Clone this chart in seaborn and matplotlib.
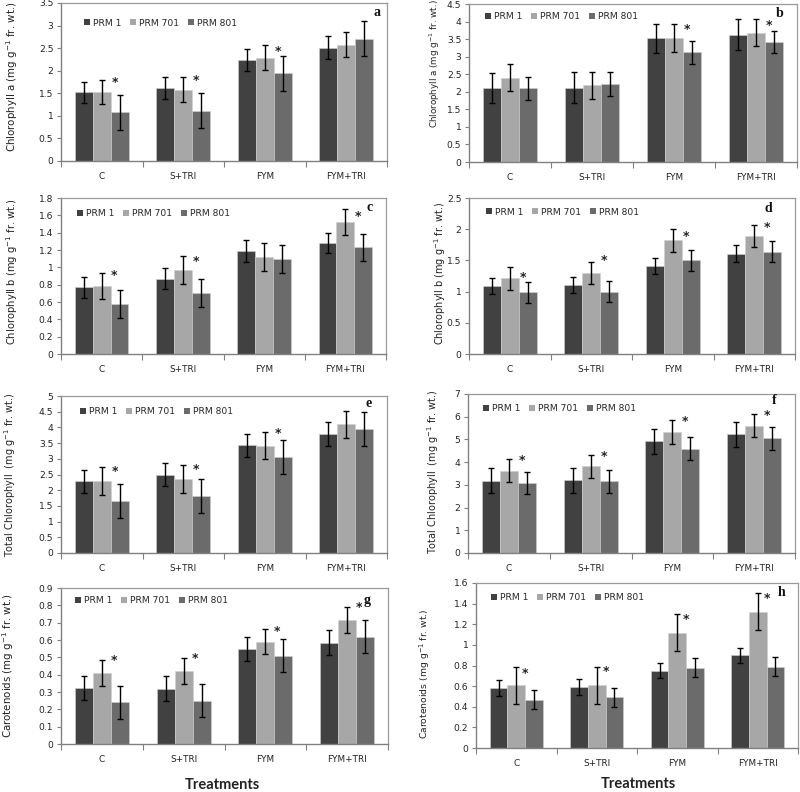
import numpy as np
import pandas as pd
import matplotlib
matplotlib.use("Agg")
import matplotlib.pyplot as plt
from matplotlib.patches import Patch
from matplotlib.ticker import FuncFormatter
import seaborn as sns

# ===============================
# Data
# ===============================
treatments = ["C", "S+TRI", "FYM", "FYM+TRI"]
cultivars = ["PRM 1", "PRM 701", "PRM 801"]

# rows = cultivars, columns = treatments
a_mean = [[1.52, 1.62, 2.24, 2.51], [1.53, 1.58, 2.29, 2.58], [1.08, 1.11, 1.94, 2.71]]
a_err = [[0.24, 0.24, 0.25, 0.25], [0.26, 0.27, 0.27, 0.27], [0.39, 0.39, 0.39, 0.39]]
a_star = [1.74, 1.78, 2.43, None]

b_mean = [[2.10, 2.12, 3.52, 3.63], [2.40, 2.18, 3.52, 3.68], [2.10, 2.22, 3.12, 3.42]]
b_err = [[0.43, 0.43, 0.42, 0.43], [0.39, 0.39, 0.40, 0.39], [0.32, 0.33, 0.32, 0.32]]
b_star = [None, None, 3.78, 3.90]

c_mean = [[0.77, 0.87, 1.19, 1.28], [0.79, 0.97, 1.12, 1.52], [0.58, 0.70, 1.10, 1.23]]
c_err = [[0.12, 0.12, 0.13, 0.12], [0.15, 0.16, 0.16, 0.15], [0.16, 0.16, 0.16, 0.16]]
c_star = [0.90, 1.065, None, 1.59]

d_mean = [[1.09, 1.10, 1.41, 1.61], [1.21, 1.30, 1.82, 1.89], [0.99, 1.00, 1.50, 1.64]]
d_err = [[0.13, 0.13, 0.13, 0.14], [0.18, 0.18, 0.18, 0.18], [0.17, 0.17, 0.17, 0.17]]
d_star = [1.22, 1.50, 1.89, 2.03]

e_mean = [[2.28, 2.49, 3.43, 3.80], [2.30, 2.35, 3.41, 4.10], [1.67, 1.82, 3.06, 3.95]]
e_err = [[0.36, 0.37, 0.37, 0.38], [0.44, 0.44, 0.43, 0.43], [0.54, 0.55, 0.54, 0.54]]
e_star = [2.60, 2.65, 3.81, None]

f_mean = [[3.18, 3.20, 4.92, 5.22], [3.62, 3.82, 5.33, 5.60], [3.08, 3.15, 4.60, 5.05]]
f_err = [[0.56, 0.54, 0.55, 0.55], [0.51, 0.50, 0.51, 0.51], [0.50, 0.50, 0.49, 0.50]]
f_star = [4.06, 4.23, 5.79, 6.06]

g_mean = [[0.325, 0.32, 0.55, 0.585], [0.41, 0.42, 0.59, 0.715], [0.24, 0.25, 0.51, 0.62]]
g_err = [[0.07, 0.07, 0.07, 0.07], [0.075, 0.075, 0.073, 0.075], [0.095, 0.095, 0.095, 0.097]]
g_star = [0.483, 0.492, 0.65, 0.787]

h_mean = [[0.58, 0.59, 0.75, 0.90], [0.61, 0.61, 1.12, 1.32], [0.47, 0.49, 0.78, 0.79]]
h_err = [[0.075, 0.075, 0.075, 0.072], [0.18, 0.18, 0.18, 0.18], [0.088, 0.088, 0.088, 0.088]]
h_star = [0.72, 0.74, 1.246, 1.45]

lab_a = "Chlorophyll a (mg g$^{-1}$ fr. wt.)"
lab_b = "Chlorophyll b (mg g$^{-1}$ fr. wt.)"
lab_t = "Total Chlorophyll  (mg g$^{-1}$ fr. wt.)"
lab_c = "Carotenoids (mg g$^{-1}$ fr. wt.)"

colors = ["#414141", "#a7a7a7", "#6b6b6b"]

# ===============================
# Panel settings
# letter, mean, err, star, ylabel, ylabel size, ymax, ystep,
# axes box in pixels (left, right, top, bottom),
# ylabel coords, legend anchor, letter pos, star offset
# ===============================
panels = [
    ("a", a_mean, a_err, a_star, lab_a, 7.4, 3.5, 0.5, (61, 387, 3, 161), (-0.15, 0.53), (0.07, 0.873), (0.98, 0.94), -0.28),
    ("b", b_mean, b_err, b_star, lab_a, 6.3, 4.5, 0.5, (469, 797, 4, 162), (-0.104, 0.62), (0.049, 0.918), (0.96, 0.94), -0.28),
    ("c", c_mean, c_err, c_star, lab_b, 7.2, 1.8, 0.2, (61, 386, 198, 354), (-0.15, 0.53), (0.049, 0.90), (0.96, 0.94), -0.28),
    ("d", d_mean, d_err, d_star, lab_b, 7.0, 2.5, 0.5, (469, 795, 198, 354), (-0.09, 0.52), (0.052, 0.91), (0.93, 0.935), -0.28),
    ("e", e_mean, e_err, e_star, lab_t, 7.0, 5.0, 0.5, (61, 387, 396, 553), (-0.156, 0.50), (0.058, 0.90), (0.954, 0.955), -0.28),
    ("f", f_mean, f_err, f_star, lab_t, 7.0, 7.0, 1.0, (468, 795, 394, 553), (-0.107, 0.51), (0.046, 0.91), (0.945, 0.96), -0.28),
    ("g", g_mean, g_err, g_star, lab_c, 7.4, 0.9, 0.1, (61, 388, 588, 744), (-0.162, 0.50), (0.043, 0.92), (0.948, 0.92), -0.35),
    ("h", h_mean, h_err, h_star, lab_c, 6.7, 1.6, 0.2, (476, 798, 583, 748), (-0.158, 0.45), (0.047, 0.91), (0.96, 0.945), -0.5),
]

sns.set_theme(style="white")
plt.rcParams["font.family"] = ["DejaVu Sans"]
plt.rcParams["mathtext.default"] = "regular"

W, H = 800, 792
fig = plt.figure(figsize=(W / 100, H / 100), dpi=100)

handles = [Patch(facecolor=c, edgecolor="none", label=n) for c, n in zip(colors, cultivars)]
fmt = FuncFormatter(lambda v, p: f"{round(v, 2):g}")

for (letter, mean, err, star, ylab, labsize, ymax, ystep, box, labxy,
     legxy, letxy, sdx) in panels:
    l, r, t, b = box
    ax = fig.add_axes([l / W, 1 - b / H, (r - l) / W, (b - t) / H])

    df = pd.DataFrame({
        "Treatment": treatments * len(cultivars),
        "Cultivar": np.repeat(cultivars, len(treatments)),
        "Value": np.ravel(mean),
    })
    sns.barplot(data=df, x="Treatment", y="Value", hue="Cultivar",
                order=treatments, hue_order=cultivars, palette=colors,
                saturation=1, width=0.66, errorbar=None, legend=False,
                edgecolor="#d0d0d0", linewidth=0.4, ax=ax)
    bars = list(ax.containers)

    # error bars on each bar
    for i, cont in enumerate(bars):
        xs = [p.get_x() + p.get_width() / 2 for p in cont]
        hs = [p.get_height() for p in cont]
        ax.errorbar(xs, hs, yerr=err[i], fmt="none", ecolor="black",
                    elinewidth=1, capsize=2.5, capthick=1, zorder=5)

    # significance stars
    for j, s in enumerate(star):
        if s is None:
            continue
        p = bars[2][j]
        x = p.get_x() + p.get_width() * (0.5 + sdx)
        ax.text(x, s, "*", ha="center", va="center", fontsize=9,
                fontweight="bold", color="#222222", zorder=6)

    ax.set_xlim(-0.5, 3.5)
    ax.set_ylim(0, ymax)
    ax.set_yticks(np.arange(0, ymax + ystep / 2, ystep))
    ax.yaxis.set_major_formatter(fmt)
    ax.set_xticks([-0.5, 0.5, 1.5, 2.5, 3.5], minor=True)
    ax.tick_params(axis="x", which="major", length=0, pad=8, labelsize=6.4, colors="#222222")
    ax.tick_params(axis="x", which="minor", length=4, width=0.8, color="#808080", direction="out", bottom=True)
    ax.tick_params(axis="y", length=3, width=0.8, color="#808080", direction="out", left=True,
                   labelsize=6.6, pad=2.5, labelcolor="#222222")

    for side in ["left", "bottom"]:
        ax.spines[side].set_color("#808080")
        ax.spines[side].set_linewidth(1)
    for side in ["top", "right"]:
        ax.spines[side].set_color("#9a9a9a")
        ax.spines[side].set_linewidth(0.9)

    ax.set_xlabel("")
    ax.set_ylabel(ylab, fontsize=labsize, color="#222222", va="center")
    ax.yaxis.set_label_coords(*labxy)

    ax.legend(handles=handles, loc="center left", bbox_to_anchor=legxy, ncol=3,
              frameon=False, handlelength=0.65, handleheight=0.65, handletextpad=0.3,
              columnspacing=1.0, borderpad=0, borderaxespad=0, fontsize=6.6)

    ax.text(letxy[0], letxy[1], letter, transform=ax.transAxes, ha="right", va="center",
            fontsize=10, fontweight="bold", family="Liberation Serif", color="#111111")

fig.text(222 / W, 1 - 785 / H, "Treatments", ha="center", va="center",
         fontsize=10.5, fontweight="bold", family="Lato", color="#222222")
fig.text(638 / W, 1 - 784 / H, "Treatments", ha="center", va="center",
         fontsize=10.5, fontweight="bold", family="Lato", color="#222222")

fig.savefig("out.png", dpi=100)
